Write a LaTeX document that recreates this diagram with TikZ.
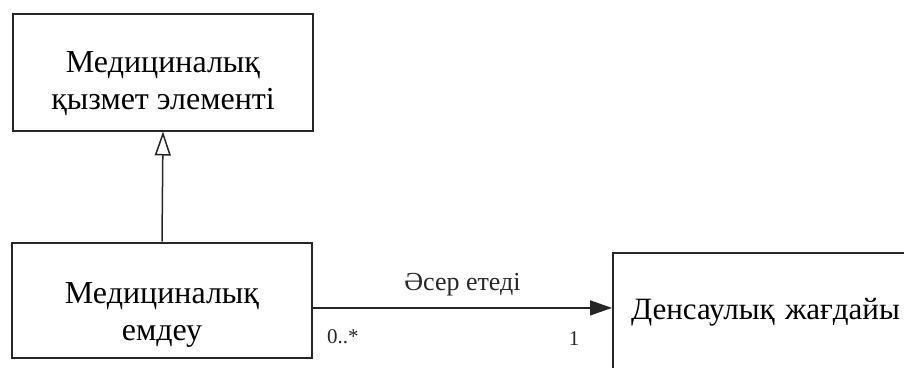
\documentclass[tikz,border=0pt]{standalone}
\usepackage{fontspec}
\setmainfont{Liberation Serif}
\usetikzlibrary{arrows.meta,positioning}

\newcommand{\boxstrut}[1]{\rule{0pt}{#1}}

\begin{document}
\begin{tikzpicture}[x=1pt,y=-1pt]

\tikzset{
  classbox/.style={rectangle, draw=black!85, line width=2pt, fill=white,
                  font=\fontsize{32}{37}\selectfont, align=center,
                  minimum width=300pt, minimum height=117pt, inner sep=2pt},
  rolelabel/.style={font=\fontsize{21}{24}\selectfont, inner sep=1pt},
  assoc/.style={black!85, line width=1.5pt,
                  -{Triangle[length=22pt, width=15pt]}},
  generalization/.style={black!85, line width=1.5pt,
                  -{Triangle[open, length=24pt, width=16pt]}}
}

% Frame
\useasboundingbox (0,0) rectangle (904,367);
\clip (0,0) rectangle (904,367);

% Classes
\node[classbox] (service) at (163,72) {\boxstrut{44pt}Медициналық\\қызмет элементі};
\node[classbox, minimum height=115pt] (treatment) at (162,300) {\boxstrut{50pt}Медициналық\\емдеу};
\node[classbox, anchor=west, align=left, text width=300pt, inner xsep=18pt,
      minimum height=118pt, font=\fontsize{31}{36}\selectfont] (health) at (612,312) {Денсаулық жағдайы};

% Lines
\draw[generalization] (treatment.north) -- (service.south);
\draw[assoc] (treatment.-3) -- (treatment.-3 -| health.west)
  node[rolelabel, font=\fontsize{26}{29}\selectfont, pos=0.5, above=10pt] {Әсер етеді}
  node[rolelabel, pos=0.1, below=20pt] {0..*}
  node[rolelabel, pos=0.873, below=22pt] {1};

\end{tikzpicture}
\end{document}
